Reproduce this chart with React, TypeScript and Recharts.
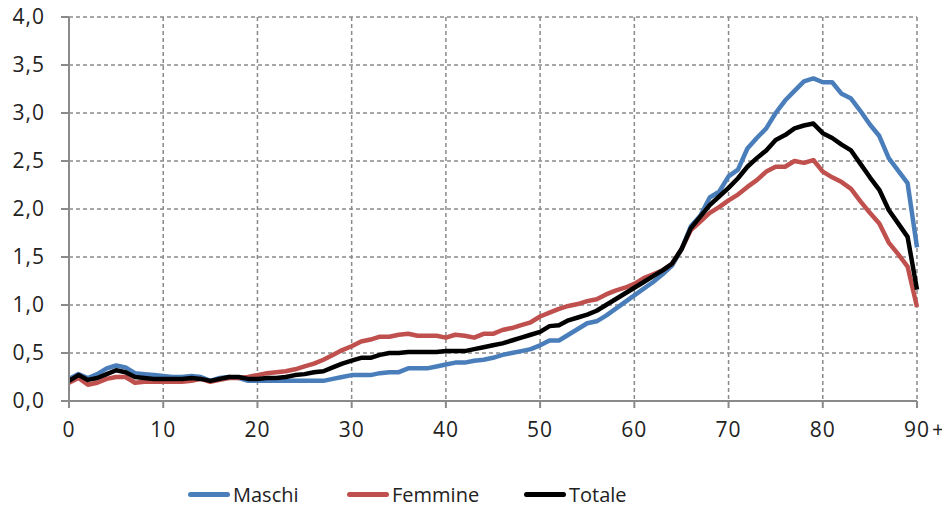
import { LineChart, Line, XAxis, YAxis, CartesianGrid, Legend } from 'recharts';

const ages = [
  0, 1, 2, 3, 4, 5, 6, 7, 8, 9, 10, 11, 12, 13, 14, 15, 16, 17, 18, 19,
  20, 21, 22, 23, 24, 25, 26, 27, 28, 29, 30, 31, 32, 33, 34, 35, 36, 37, 38, 39,
  40, 41, 42, 43, 44, 45, 46, 47, 48, 49, 50, 51, 52, 53, 54, 55, 56, 57, 58, 59,
  60, 61, 62, 63, 64, 65, 66, 67, 68, 69, 70, 71, 72, 73, 74, 75, 76, 77, 78, 79,
  80, 81, 82, 83, 84, 85, 86, 87, 88, 89, 90,
];

const maschi = [
  0.23, 0.28, 0.24, 0.28, 0.34, 0.37, 0.35, 0.29, 0.28, 0.27,
  0.26, 0.25, 0.25, 0.26, 0.25, 0.21, 0.24, 0.25, 0.24, 0.21,
  0.21, 0.21, 0.21, 0.21, 0.21, 0.21, 0.21, 0.21, 0.23, 0.25,
  0.27, 0.27, 0.27, 0.29, 0.30, 0.30, 0.34, 0.34, 0.34, 0.36,
  0.38, 0.40, 0.40, 0.42, 0.43, 0.45, 0.48, 0.50, 0.52, 0.54,
  0.58, 0.63, 0.63, 0.69, 0.75, 0.81, 0.83, 0.89, 0.96, 1.03,
  1.10, 1.17, 1.24, 1.32, 1.41, 1.58, 1.82, 1.93, 2.12, 2.18,
  2.34, 2.41, 2.63, 2.74, 2.84, 3.00, 3.13, 3.23, 3.33, 3.36,
  3.32, 3.32, 3.20, 3.15, 3.02, 2.88, 2.76, 2.53, 2.40, 2.27,
  1.60,
];

const femmine = [
  0.19, 0.24, 0.17, 0.19, 0.23, 0.25, 0.25, 0.19, 0.20, 0.20,
  0.20, 0.20, 0.20, 0.21, 0.23, 0.20, 0.22, 0.24, 0.24, 0.25,
  0.27, 0.29, 0.30, 0.31, 0.33, 0.36, 0.39, 0.43, 0.48, 0.53,
  0.57, 0.62, 0.64, 0.67, 0.67, 0.69, 0.70, 0.68, 0.68, 0.68,
  0.66, 0.69, 0.68, 0.66, 0.70, 0.70, 0.74, 0.76, 0.79, 0.82,
  0.88, 0.92, 0.96, 0.99, 1.01, 1.04, 1.06, 1.11, 1.15, 1.18,
  1.22, 1.28, 1.32, 1.36, 1.43, 1.58, 1.78, 1.87, 1.96, 2.02,
  2.09, 2.15, 2.23, 2.30, 2.39, 2.44, 2.44, 2.50, 2.48, 2.51,
  2.39, 2.33, 2.28, 2.21, 2.08, 1.96, 1.85, 1.65, 1.53, 1.40,
  0.98,
];

const totale = [
  0.21, 0.27, 0.22, 0.24, 0.28, 0.32, 0.30, 0.25, 0.24, 0.23,
  0.23, 0.23, 0.23, 0.24, 0.23, 0.21, 0.23, 0.25, 0.25, 0.23,
  0.23, 0.24, 0.24, 0.25, 0.27, 0.28, 0.30, 0.31, 0.35, 0.39,
  0.42, 0.45, 0.45, 0.48, 0.50, 0.50, 0.51, 0.51, 0.51, 0.51,
  0.52, 0.52, 0.52, 0.54, 0.56, 0.58, 0.60, 0.63, 0.66, 0.69,
  0.72, 0.78, 0.79, 0.84, 0.87, 0.90, 0.94, 1.00, 1.06, 1.12,
  1.18, 1.24, 1.30, 1.36, 1.43, 1.58, 1.80, 1.92, 2.04, 2.13,
  2.22, 2.32, 2.44, 2.53, 2.61, 2.72, 2.77, 2.84, 2.87, 2.89,
  2.79, 2.74, 2.67, 2.61, 2.47, 2.33, 2.20, 1.99, 1.85, 1.71,
  1.16,
];

const xTicks = [0, 10, 20, 30, 40, 50, 60, 70, 80, 90];
const yTicks = [0, 0.5, 1, 1.5, 2, 2.5, 3, 3.5, 4];

const seriesNames = ['Maschi', 'Femmine', 'Totale'];
const seriesColors = ['#4a7ebb', '#c0504d', '#000000'];

const data = ages.map((age, i) => ({
  age,
  Maschi: maschi[i],
  Femmine: femmine[i],
  Totale: totale[i],
}));

const FONT = '"Open Sans", sans-serif';
const GRID = '#8a8a8a';

function XTick(props: any) {
  const { x, y, payload } = props;
  const v = payload.value;
  return (
    <g>
      <text x={x} y={y} dy={23} textAnchor="middle" fontFamily={FONT} fontSize={21} fill="#222" letterSpacing={1}>
        {v}
      </text>
      {v === 90 && (
        <text x={x + 15} y={y} dy={23} textAnchor="start" fontFamily={FONT} fontSize={21} fill="#222">
          +
        </text>
      )}
    </g>
  );
}

function LegendBox() {
  const lefts = [180, 339, 516];
  return (
    <div style={{ position: 'relative', width: 934, height: 30 }}>
      {seriesNames.map((name, i) => (
        <div
          key={name}
          style={{ position: 'absolute', left: lefts[i], top: 0, height: 30, display: 'flex', alignItems: 'center' }}
        >
          <div style={{ width: 42, height: 5, borderRadius: 3, background: seriesColors[i] }} />
          <span style={{ marginLeft: 3, fontFamily: FONT, fontSize: 20, color: '#222' }}>{name}</span>
        </div>
      ))}
    </div>
  );
}

export default function App() {
  return (
    <LineChart
      width={942}
      height={501}
      data={data}
      margin={{ top: 9, right: 33, left: 0, bottom: 0 }}
      style={{ overflow: 'visible' }}
    >
      <CartesianGrid stroke={GRID} strokeWidth={1.5} strokeDasharray="4 3" />
      <XAxis
        dataKey="age"
        type="number"
        domain={[0, 90]}
        ticks={xTicks}
        interval={0}
        height={78}
        stroke={GRID}
        strokeWidth={2}
        tickSize={7}
        tickMargin={6}
        tick={<XTick />}
      />
      <YAxis
        type="number"
        domain={[0, 4]}
        ticks={yTicks}
        interval={0}
        width={61}
        stroke={GRID}
        strokeWidth={2}
        tickSize={8}
        tickMargin={16}
        tickFormatter={(v: number) => v.toFixed(1).replace('.', ',')}
        tick={{ fontFamily: FONT, fontSize: 21, fill: '#222', letterSpacing: 1 }}
      />
      <Legend verticalAlign="bottom" height={30} content={() => <LegendBox />} />
      {seriesNames.map((name, i) => (
        <Line
          key={name}
          dataKey={name}
          type="linear"
          stroke={seriesColors[i]}
          strokeWidth={4.5}
          strokeLinejoin="round"
          dot={false}
          activeDot={false}
          isAnimationActive={false}
        />
      ))}
    </LineChart>
  );
}
